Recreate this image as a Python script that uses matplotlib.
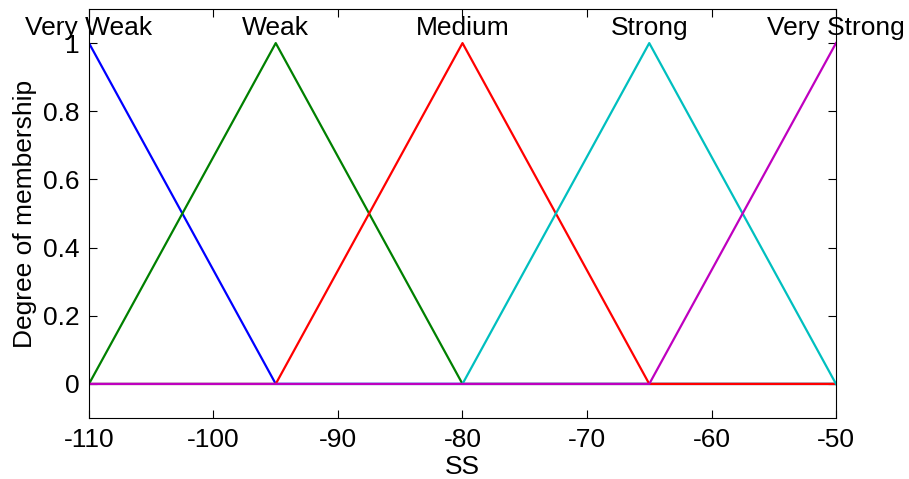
import matplotlib.pyplot as plt

# breakpoints of each membership function (x, degree)
names = ['Very Weak', 'Weak', 'Medium', 'Strong', 'Very Strong']
peaks = [-110, -95, -80, -65, -50]
vw_x = [-110, -95, -50]
vw_y = [1, 0, 0]
w_x = [-110, -95, -80, -50]
w_y = [0, 1, 0, 0]
m_x = [-110, -95, -80, -65, -50]
m_y = [0, 0, 1, 0, 0]
s_x = [-110, -80, -65, -50]
s_y = [0, 0, 1, 0]
vs_x = [-110, -65, -50]
vs_y = [0, 0, 1]

colors = ['#0000ff', '#008000', '#ff0000', '#00bfbf', '#bf00bf']
xs = [vw_x, w_x, m_x, s_x, vs_x]
ys = [vw_y, w_y, m_y, s_y, vs_y]


def main():
    plt.rcParams['font.family'] = ['Liberation Sans', 'DejaVu Sans']
    plt.rcParams['axes.unicode_minus'] = False
    fig = plt.figure(figsize=(9.09, 4.79), dpi=100)
    ax = fig.add_axes([0.0979, 0.1273, 0.8218, 0.8539])
    for x, y, c in zip(xs, ys, colors):
        ax.plot(x, y, color=c, linewidth=1.6)
    for n, p in zip(names, peaks):
        ax.text(p, 1.045, n, ha='center', va='center', fontsize=19, clip_on=False)

    ax.set_xlim(-110, -50)
    ax.set_ylim(-0.1, 1.1)
    ax.set_xticks(range(-110, -49, 10))
    ax.set_yticks([0, 0.2, 0.4, 0.6, 0.8, 1])
    ax.set_yticklabels(['0', '0.2', '0.4', '0.6', '0.8', '1'])
    ax.tick_params(direction='in', length=6, labelsize=19, top=True, right=True, pad=7)
    ax.set_xlabel('SS', fontsize=19, labelpad=2)
    ax.set_ylabel('Degree of membership', fontsize=19, labelpad=4)
    fig.savefig('out.png', dpi=100)


if __name__ == "__main__":
    main()
